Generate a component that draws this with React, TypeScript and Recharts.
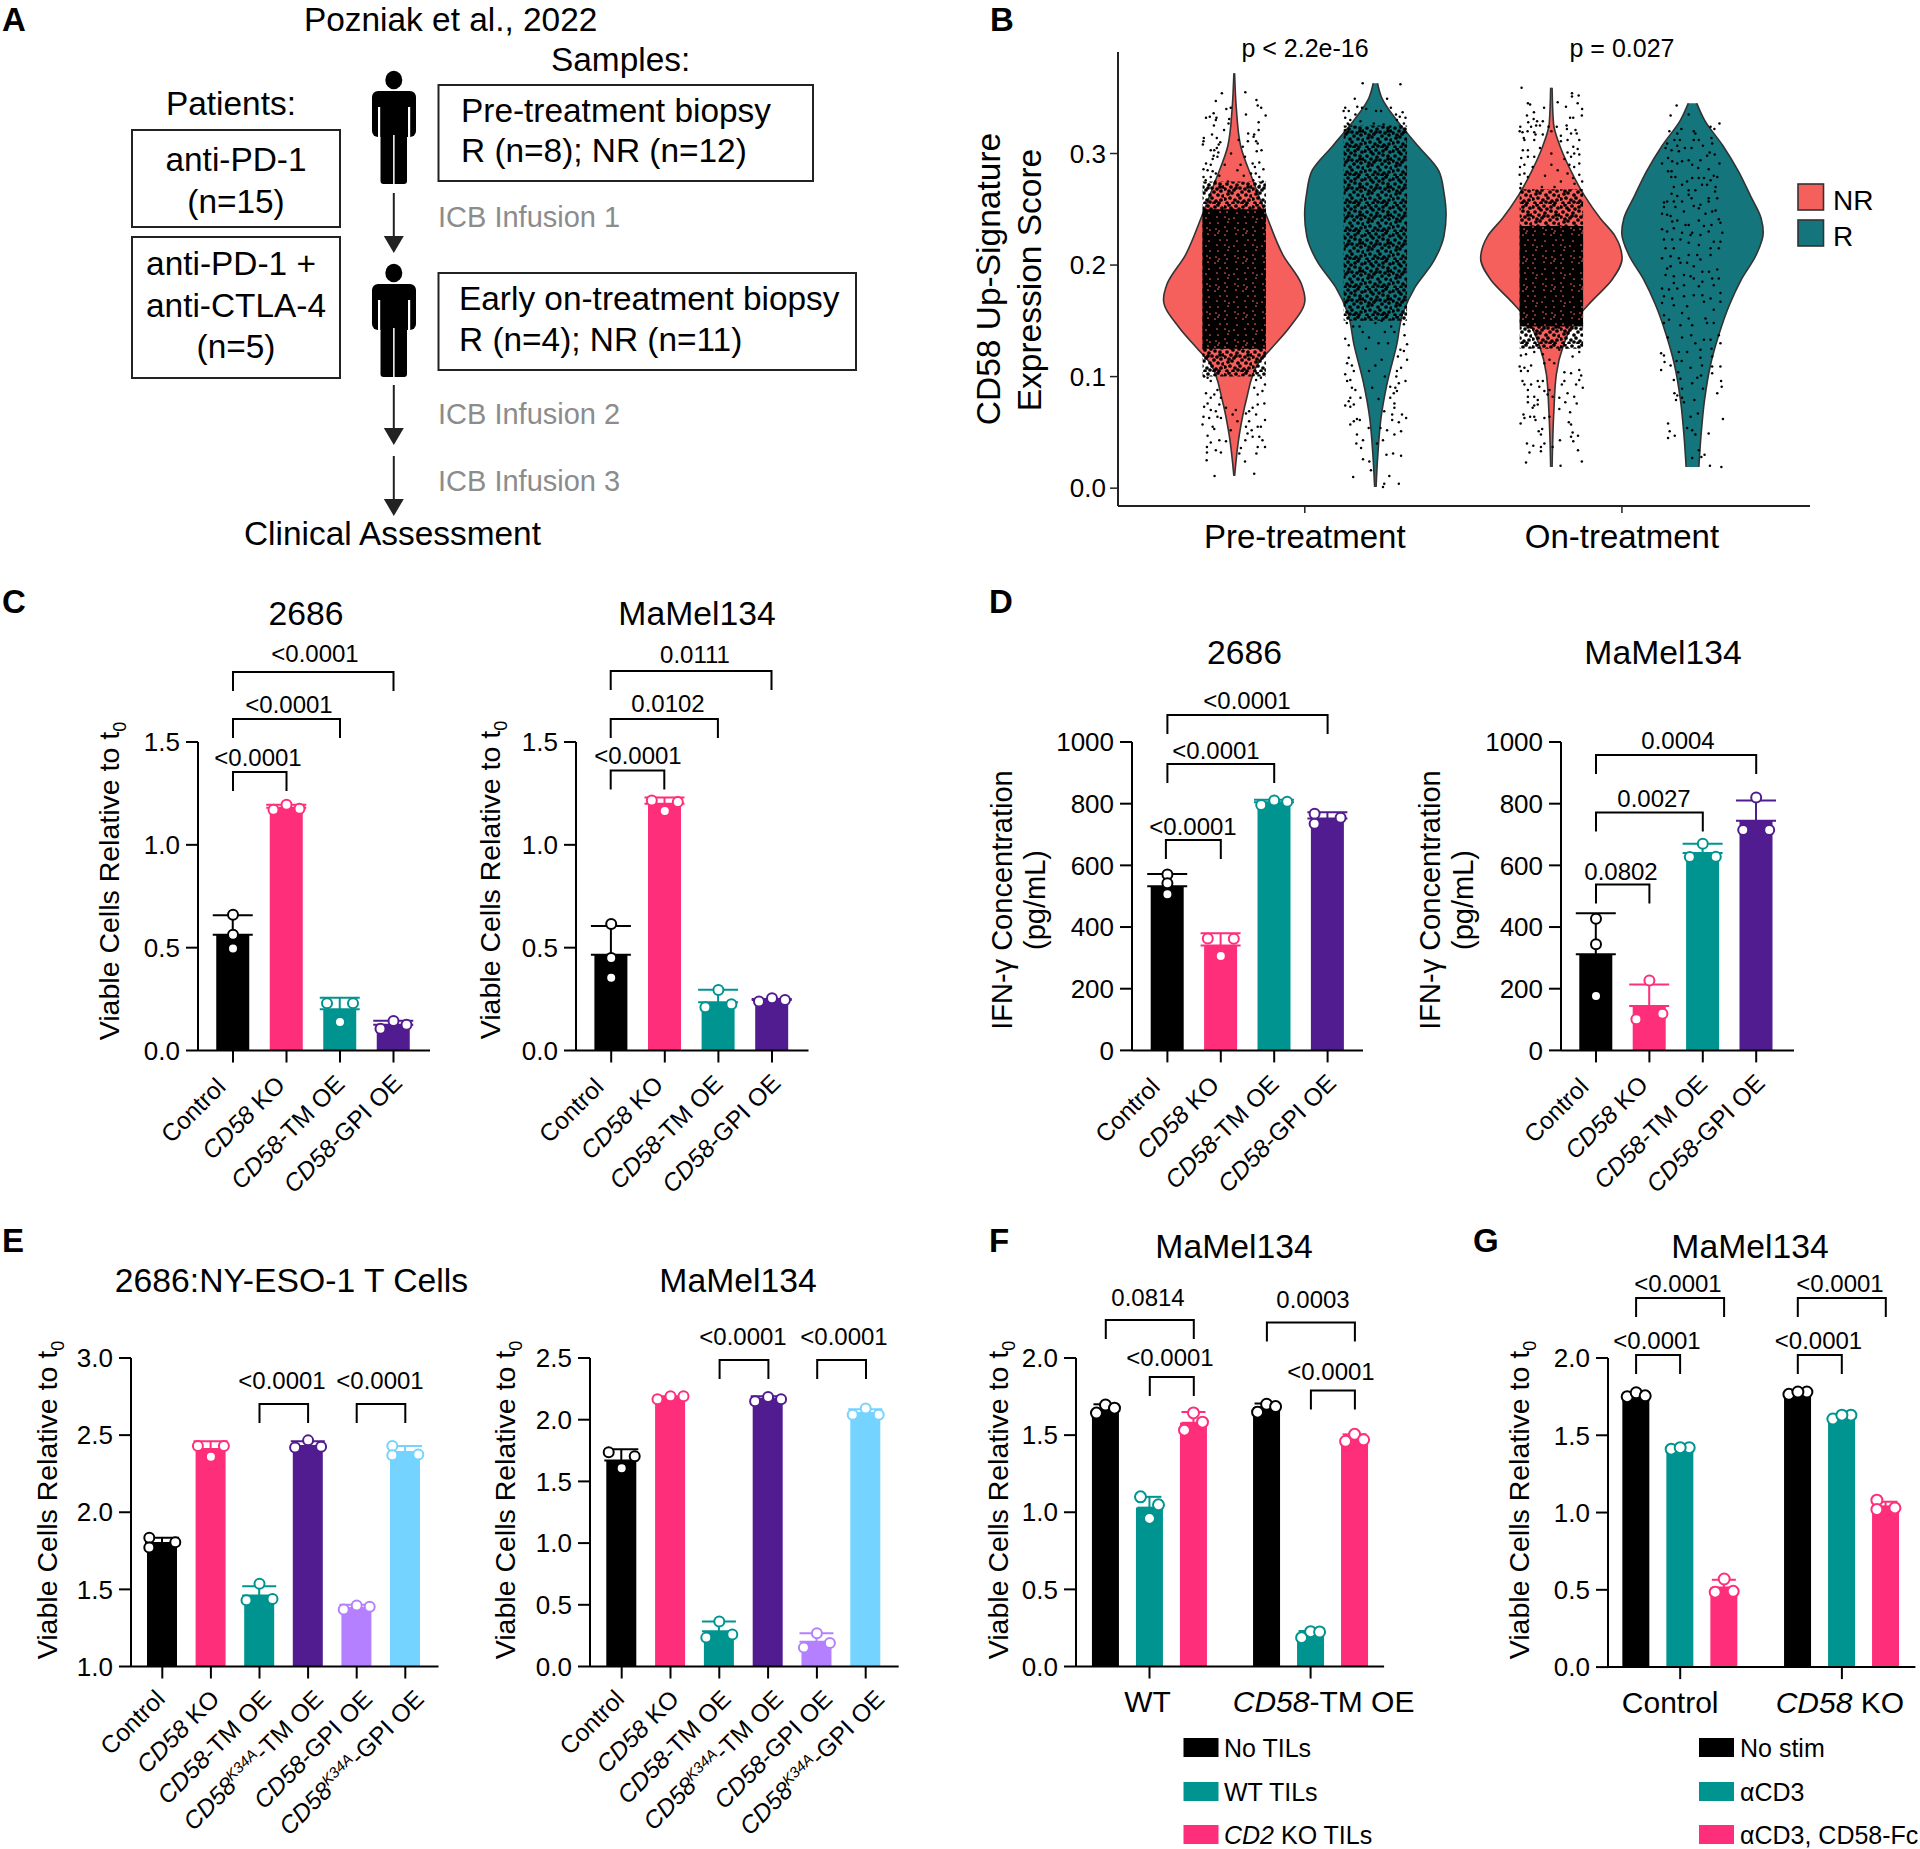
import {
  Area,
  Bar,
  ComposedChart,
  ErrorBar,
  Line,
  Scatter,
  XAxis,
  YAxis,
} from "recharts";

const FONT = '"Liberation Sans", Arial, Helvetica, sans-serif';

const BLACK = "#000000";
const PINK = "#ff2e7a";
const TEAL = "#009490";
const PURPLE = "#511c8f";
const LAVENDER = "#b580ff";
const SKY = "#74d3ff";
const NR_FILL = "#f6605c";
const R_FILL = "#14767c";

const COLORS_4 = [BLACK, PINK, TEAL, PURPLE];
const COLORS_6 = [BLACK, PINK, TEAL, PURPLE, LAVENDER, SKY];

const LABELS_4 = ["Control", "CD58 KO", "CD58-TM OE", "CD58-GPI OE"];
const LABELS_6 = [
  "Control",
  "CD58 KO",
  "CD58-TM OE",
  "CD58K34A-TM OE",
  "CD58-GPI OE",
  "CD58K34A-GPI OE",
];

// panel C
const C1_MEANS = [0.563, 1.18, 0.2, 0.125];
const C1_ERRORS = [0.095, 0.015, 0.057, 0.02];
const C1_REPS = [
  [0.66, 0.563, 0.496],
  [1.17, 1.195, 1.175],
  [0.23, 0.23, 0.138],
  [0.106, 0.144, 0.125],
];
const C2_MEANS = [0.465, 1.2, 0.235, 0.245];
const C2_ERRORS = [0.14, 0.03, 0.06, 0.006];
const C2_REPS = [
  [0.615, 0.45, 0.354],
  [1.215, 1.165, 1.208],
  [0.294, 0.21, 0.225],
  [0.238, 0.254, 0.246],
];

// panel D
const D1_MEANS = [532, 340, 805, 752];
const D1_ERRORS = [40, 40, 8, 20];
const D1_REPS = [
  [570, 542, 506],
  [363, 362, 306],
  [796, 810, 806],
  [767, 754, 735],
];
const D2_MEANS = [312, 144, 640, 745];
const D2_ERRORS = [133, 70, 30, 65];
const D2_REPS = [
  [427, 344, 176],
  [227, 101, 119],
  [670, 627, 628],
  [820, 715, 715],
];

// panel E
const E1_MEANS = [1.8, 2.41, 1.46, 2.43, 1.38, 2.39];
const E1_ERRORS = [0.035, 0.05, 0.06, 0.03, 0.02, 0.04];
const E1_REPS = [
  [1.835, 1.806, 1.772],
  [2.43, 2.43, 2.36],
  [1.536, 1.43, 1.437],
  [2.42, 2.466, 2.425],
  [1.37, 1.395, 1.388],
  [2.43, 2.37, 2.375],
];
const E2_MEANS = [1.67, 2.18, 0.285, 2.17, 0.2, 2.055];
const E2_ERRORS = [0.09, 0.01, 0.08, 0.02, 0.07, 0.03];
const E2_REPS = [
  [1.736, 1.703, 1.606],
  [2.165, 2.19, 2.19],
  [0.364, 0.234, 0.26],
  [2.15, 2.185, 2.165],
  [0.27, 0.153, 0.19],
  [2.04, 2.09, 2.04],
];

// panel F
const F_GROUPS = ["WT", "CD58-TM OE"];
const F_SERIES = ["No TILs", "WT TILs", "CD2 KO TILs"];
const F_MEANS = [
  [1.67, 1.68],
  [1.03, 0.21],
  [1.58, 1.48],
];
const F_ERRORS = [
  [0.03, 0.025],
  [0.07, 0.02],
  [0.07, 0.025],
];
const F_REPS = [
  [
    [1.643, 1.695, 1.675],
    [1.649, 1.7, 1.685],
  ],
  [
    [1.1, 1.048, 0.96],
    [0.187, 0.226, 0.224],
  ],
  [
    [1.644, 1.584, 1.532],
    [1.46, 1.505, 1.47],
  ],
];

// panel G
const G_GROUPS = ["Control", "CD58 KO"];
const G_SERIES = ["No stim", "αCD3", "αCD3, CD58-Fc"];
const G_MEANS = [
  [1.76, 1.77],
  [1.41, 1.62],
  [0.515, 1.04],
];
const G_ERRORS = [
  [0.015, 0.01],
  [0.01, 0.015],
  [0.05, 0.03],
];
const G_REPS = [
  [
    [1.75, 1.775, 1.755],
    [1.765, 1.78, 1.78],
  ],
  [
    [1.41, 1.42, 1.42],
    [1.605, 1.63, 1.63],
  ],
  [
    [0.57, 0.49, 0.485],
    [1.03, 1.08, 1.02],
  ],
];

// panel B violins, density is the half width relative to the widest point
const NR_PRE_SCORE = [0.372, 0.34, 0.307, 0.275, 0.242, 0.209, 0.183, 0.169, 0.144, 0.125, 0.112, 0.079, 0.047, 0.011];
const NR_PRE_DENSITY = [0.005, 0.03, 0.09, 0.27, 0.47, 0.69, 0.95, 1, 0.78, 0.52, 0.34, 0.17, 0.07, 0.005];
const R_PRE_SCORE = [0.363, 0.35, 0.33, 0.307, 0.284, 0.265, 0.245, 0.226, 0.203, 0.18, 0.157, 0.128, 0.095, 0.063, 0.03, 0.001];
const R_PRE_DENSITY = [0.03, 0.09, 0.3, 0.6, 0.9, 0.97, 1, 0.97, 0.82, 0.56, 0.39, 0.3, 0.17, 0.08, 0.035, 0.01];
const NR_ON_SCORE = [0.359, 0.327, 0.307, 0.284, 0.262, 0.242, 0.226, 0.206, 0.187, 0.167, 0.151, 0.128, 0.102, 0.069, 0.019];
const NR_ON_DENSITY = [0.01, 0.03, 0.12, 0.28, 0.47, 0.69, 0.9, 1, 0.86, 0.56, 0.34, 0.17, 0.07, 0.035, 0.01];
const R_ON_SCORE = [0.345, 0.33, 0.307, 0.284, 0.262, 0.242, 0.229, 0.209, 0.187, 0.164, 0.135, 0.112, 0.079, 0.047, 0.019];
const R_ON_DENSITY = [0.06, 0.17, 0.43, 0.65, 0.82, 0.97, 1, 0.9, 0.69, 0.52, 0.36, 0.26, 0.17, 0.12, 0.09];

// Individually readable jitter dots as [offset from violin centre, score].
// The packed core of the clouds is too dense to read point by point, so it is
// shown as a stippled band (CORE_* below), not as made up points.
const NR_PRE_DOTS = [
  [-0.039, 0.354], [-0.058, 0.347], [0.035, 0.355], [0.07, 0.348], [0.074, 0.343], [0.085, 0.341], [-0.025, 0.34], [-0.011, 0.341],
  [0.037, 0.335], [0.099, 0.334], [-0.089, 0.332], [-0.065, 0.336], [-0.077, 0.333], [-0.056, 0.332], [-0.058, 0.33], [-0.016, 0.331],
  [-0.018, 0.327], [0.077, 0.328], [-0.064, 0.325], [-0.032, 0.321], [0.077, 0.321], [0.063, 0.317], [-0.07, 0.317], [0.044, 0.318],
  [0.061, 0.315], [-0.096, 0.314], [-0.055, 0.314], [-0.097, 0.311], [-0.044, 0.31], [-0.099, 0.308], [-0.049, 0.308], [-0.055, 0.305],
  [0.043, 0.311], [0.069, 0.311], [0.014, 0.312], [0.074, 0.309], [-0.074, 0.303], [-0.063, 0.303], [0.027, 0.306], [0.086, 0.303],
  [0.071, 0.302], [-0.05, 0.301], [-0.065, 0.298], [-0.053, 0.297], [-0.068, 0.295], [-0.089, 0.291], [-0.074, 0.29], [0.079, 0.292],
  [0.034, 0.297], [0.058, 0.291], [0.065, 0.288], [0.092, 0.286], [-0.097, 0.286], [-0.084, 0.285], [-0.068, 0.284], [-0.058, 0.282],
  [-0.097, 0.279], [-0.074, 0.279], [-0.047, 0.28], [0.068, 0.282], [0.079, 0.279], [0.053, 0.282], [-0.09, 0.276], [-0.06, 0.275],
  [-0.08, 0.272], [0.09, 0.275], [0.06, 0.276], [0.08, 0.271], [-0.03, 0.29], [0.02, 0.29], [-0.01, 0.3], [0.01, 0.285], [0.03, 0.28],
  [-0.02, 0.275], [-0.084, 0.099], [-0.095, 0.1], [-0.074, 0.096], [-0.089, 0.085], [-0.063, 0.084], [-0.074, 0.081], [-0.042, 0.081],
  [-0.084, 0.076], [-0.047, 0.075], [-0.095, 0.073], [-0.074, 0.07], [-0.058, 0.069], [-0.097, 0.064], [-0.079, 0.063], [-0.053, 0.064],
  [-0.042, 0.063], [-0.1, 0.057], [-0.068, 0.055], [-0.063, 0.053], [-0.084, 0.047], [-0.047, 0.043], [-0.026, 0.042], [-0.074, 0.041],
  [-0.086, 0.037], [-0.058, 0.034], [-0.042, 0.032], [-0.086, 0.032], [-0.087, 0.025], [-0.062, 0.011], [0.063, 0.013], [0.034, 0.024],
  [0.07, 0.031], [0.074, 0.037], [0.097, 0.037], [0.021, 0.036], [0.016, 0.031], [0.089, 0.043], [0.079, 0.046], [0.058, 0.046],
  [0.035, 0.043], [0.042, 0.049], [0.055, 0.052], [0.074, 0.055], [0.097, 0.061], [0.084, 0.055], [0.037, 0.055], [0.047, 0.06],
  [0.069, 0.066], [0.047, 0.069], [0.095, 0.076], [0.074, 0.075], [0.058, 0.072], [0.037, 0.067], [0.089, 0.087], [0.074, 0.084],
  [0.063, 0.09], [0.097, 0.093], [0.084, 0.099], [0.069, 0.097], [-0.053, 0.088], [-0.026, 0.072], [-0.005, 0.066], [0.005, 0.07],
  [0.01, 0.06], [-0.011, 0.052],
];
const R_PRE_DOTS = [
  [-0.04, 0.363], [0.079, 0.362], [-0.065, 0.349], [0.037, 0.349], [-0.057, 0.342], [-0.042, 0.341], [-0.095, 0.341], [0.049, 0.341],
  [-0.1, 0.338], [-0.084, 0.338], [-0.029, 0.34], [0.002, 0.338], [0.018, 0.338], [-0.063, 0.335], [0.086, 0.337], [0.065, 0.335],
  [0.077, 0.333], [0.095, 0.332], [-0.095, 0.332], [-0.079, 0.33], [-0.087, 0.327], [0.068, 0.33], [0.09, 0.327], [-0.084, 0.326],
  [-0.095, 0.321], [-0.047, 0.329], [-0.005, 0.327], [0.026, 0.326], [0.047, 0.324], [0.079, 0.323], [-0.095, 0.134], [-0.084, 0.128],
  [0.1, 0.129], [0.092, 0.137], [0.079, 0.124], [0.09, 0.123], [-0.084, 0.117], [-0.089, 0.112], [-0.074, 0.11], [0.1, 0.115],
  [0.071, 0.118], [-0.095, 0.102], [-0.068, 0.105], [-0.079, 0.097], [-0.089, 0.096], [-0.074, 0.09], [-0.063, 0.088], [0.068, 0.105],
  [0.066, 0.1], [0.081, 0.108], [0.095, 0.096], [0.074, 0.094], [0.047, 0.091], [0.063, 0.09], [0.058, 0.085], [0.068, 0.087],
  [-0.047, 0.081], [-0.079, 0.081], [-0.084, 0.078], [-0.095, 0.074], [-0.079, 0.073], [-0.068, 0.075], [0.047, 0.081], [0.06, 0.076],
  [0.06, 0.072], [0.028, 0.069], [0.053, 0.066], [0.053, 0.061], [0.084, 0.066], [0.097, 0.063], [0.074, 0.059], [-0.058, 0.062],
  [-0.068, 0.06], [-0.049, 0.061], [-0.079, 0.057], [-0.021, 0.054], [0.037, 0.052], [0.016, 0.054], [0.081, 0.051], [0.06, 0.048],
  [-0.058, 0.048], [-0.039, 0.043], [0.024, 0.043], [-0.06, 0.04], [-0.045, 0.036], [0.005, 0.04], [0.035, 0.03], [0.056, 0.031],
  [0.081, 0.029], [-0.039, 0.026], [-0.019, 0.024], [-0.014, 0.016], [-0.07, 0.01], [0.044, 0.011], [0.028, 0.004], [0.024, 0.001],
  [0.074, 0.004], [-0.03, 0.125], [0.02, 0.115], [-0.02, 0.105], [0.03, 0.1], [-0.01, 0.09], [0.01, 0.08], [0, 0.11], [-0.04, 0.14],
  [0.03, 0.14], [0.04, 0.13], [-0.02, 0.135], [0.01, 0.13], [-0.05, 0.145], [0.05, 0.145], [0.06, 0.14], [-0.07, 0.145], [-0.09, 0.148],
  [0.09, 0.147], [0, 0.148], [0.02, 0.15],
];
const NR_ON_DOTS = [
  [-0.094, 0.359], [0.065, 0.354], [0.086, 0.352], [0.065, 0.351], [-0.074, 0.345], [-0.067, 0.344], [0.02, 0.346], [0.083, 0.345],
  [0.046, 0.342], [-0.023, 0.341], [0.097, 0.34], [-0.055, 0.337], [-0.077, 0.334], [0.096, 0.334], [0.059, 0.332], [0.069, 0.332],
  [-0.056, 0.331], [-0.045, 0.329], [-0.027, 0.329], [-0.073, 0.328], [-0.048, 0.325], [-0.036, 0.325], [-0.064, 0.324], [-0.098, 0.324],
  [0.048, 0.325], [0.049, 0.322], [-0.009, 0.324], [0.017, 0.324], [0.076, 0.321], [-0.1, 0.32], [-0.091, 0.319], [-0.075, 0.32],
  [-0.054, 0.319], [0.062, 0.318], [0.08, 0.318], [-0.087, 0.314], [-0.05, 0.317], [-0.027, 0.317], [0.03, 0.316], [0.03, 0.311],
  [0.051, 0.312], [0.088, 0.312], [-0.085, 0.312], [-0.054, 0.312], [-0.036, 0.305], [0.069, 0.306], [0.083, 0.304], [-0.09, 0.303],
  [-0.074, 0.303], [0.051, 0.301], [0.072, 0.3], [0.088, 0.299], [-0.095, 0.296], [-0.074, 0.297], [-0.054, 0.297], [0.041, 0.295],
  [0.062, 0.297], [0.088, 0.291], [-0.099, 0.288], [-0.085, 0.29], [-0.059, 0.288], [0.057, 0.29], [0.072, 0.288], [-0.1, 0.281],
  [-0.085, 0.282], [-0.074, 0.279], [0.051, 0.282], [0.088, 0.281], [0.068, 0.278], [-0.096, 0.273], [0.097, 0.275], [0.073, 0.273],
  [0.094, 0.267], [-0.098, 0.269], [0, 0.29], [-0.02, 0.28], [0.02, 0.285], [0.03, 0.275], [-0.03, 0.27], [0.01, 0.27], [0, 0.3], [0, 0.32],
  [-0.096, 0.119], [-0.08, 0.12], [-0.054, 0.122], [0.088, 0.122], [0.067, 0.118], [-0.1, 0.109], [-0.085, 0.108], [-0.064, 0.11],
  [-0.096, 0.105], [-0.074, 0.105], [0.062, 0.103], [0.088, 0.106], [0.094, 0.101], [0.041, 0.104], [-0.091, 0.096], [-0.064, 0.093],
  [-0.043, 0.096], [-0.027, 0.096], [0.088, 0.097], [0.078, 0.093], [0.041, 0.096], [0.033, 0.093], [0.099, 0.09], [-0.085, 0.093],
  [-0.074, 0.088], [-0.038, 0.091], [-0.022, 0.087], [0.051, 0.085], [0.072, 0.082], [0.08, 0.076], [0.025, 0.081], [0.044, 0.077],
  [-0.074, 0.082], [-0.054, 0.082], [-0.043, 0.079], [-0.074, 0.077], [-0.054, 0.074], [-0.043, 0.075], [-0.059, 0.072], [0.025, 0.071],
  [0.059, 0.068], [-0.088, 0.066], [-0.085, 0.063], [-0.067, 0.064], [-0.054, 0.064], [-0.022, 0.063], [-0.05, 0.061], [0.055, 0.059],
  [0.062, 0.057], [-0.097, 0.058], [-0.029, 0.053], [-0.04, 0.051], [0.067, 0.05], [-0.033, 0.048], [0.084, 0.047], [0.062, 0.046],
  [0.027, 0.043], [0.069, 0.042], [-0.077, 0.04], [-0.057, 0.038], [-0.022, 0.04], [-0.033, 0.037], [0.004, 0.037], [-0.033, 0.033],
  [0.084, 0.034], [-0.069, 0.032], [-0.08, 0.023], [0.096, 0.024], [0.029, 0.02], [-0.006, 0.064], [-0.006, 0.088], [0.004, 0.082],
  [-0.012, 0.084], [-0.022, 0.112], [-0.006, 0.115], [0.009, 0.112], [-0.027, 0.12], [0.025, 0.124],
];
const R_ON_DOTS = [
  [-0.05, 0.343], [-0.012, 0.335], [-0.069, 0.334], [0.085, 0.327], [0.057, 0.324], [0.069, 0.322], [-0.073, 0.32], [0.004, 0.32],
  [0.009, 0.318], [-0.035, 0.322], [-0.048, 0.318], [-0.057, 0.312], [-0.04, 0.312], [0.004, 0.312], [0.02, 0.312], [0.06, 0.314],
  [-0.08, 0.309], [-0.085, 0.305], [-0.066, 0.303], [-0.048, 0.307], [-0.043, 0.302], [-0.024, 0.305], [-0.003, 0.305], [0.033, 0.307],
  [0.062, 0.309], [0.054, 0.301], [0.046, 0.298], [0.07, 0.299], [-0.077, 0.296], [-0.064, 0.293], [-0.096, 0.291], [-0.048, 0.291],
  [-0.033, 0.293], [-0.012, 0.294], [-0.001, 0.29], [0.025, 0.294], [0.085, 0.291], [0.018, 0.287], [0.051, 0.286], [-0.077, 0.284],
  [-0.066, 0.284], [-0.067, 0.279], [-0.054, 0.279], [0.067, 0.28], [0.078, 0.279], [0.057, 0.276], [0.036, 0.278], [0.02, 0.278],
  [-0.001, 0.278], [-0.017, 0.275], [-0.033, 0.272], [-0.059, 0.27], [0.03, 0.272], [0.046, 0.272], [0.073, 0.27], [-0.012, 0.267],
  [0.009, 0.267], [0.071, 0.266], [-0.066, 0.264], [-0.048, 0.262], [-0.012, 0.263], [-0.003, 0.26], [0.051, 0.26], [0.078, 0.26],
  [-0.09, 0.256], [-0.08, 0.257], [-0.059, 0.257], [-0.033, 0.257], [0.004, 0.253], [0.025, 0.254], [0.051, 0.257], [-0.09, 0.252],
  [-0.054, 0.252], [-0.027, 0.248], [0.073, 0.249], [0.062, 0.248], [-0.096, 0.246], [-0.069, 0.244], [0.02, 0.251], [0.041, 0.246],
  [-0.08, 0.245], [0.083, 0.241], [0.088, 0.238], [-0.064, 0.239], [-0.048, 0.24], [-0.012, 0.236], [0.02, 0.24], [0.06, 0.236],
  [-0.059, 0.233], [-0.022, 0.236], [0.036, 0.235], [-0.096, 0.232], [-0.08, 0.23], [-0.033, 0.229], [-0.001, 0.229], [0.051, 0.23],
  [0.094, 0.229], [-0.09, 0.223], [-0.064, 0.223], [-0.038, 0.223], [-0.006, 0.227], [0.025, 0.227], [0.067, 0.221], [0.088, 0.221],
  [-0.085, 0.215], [-0.059, 0.215], [-0.012, 0.22], [0.02, 0.218], [0.057, 0.215], [0.083, 0.215], [-0.096, 0.206], [-0.069, 0.208],
  [-0.043, 0.206], [-0.012, 0.209], [0.015, 0.209], [0.057, 0.209], [-0.038, 0.202], [-0.017, 0.202], [0.025, 0.205], [-0.08, 0.197],
  [-0.069, 0.199], [0.004, 0.199], [0.031, 0.194], [0.052, 0.194], [0.078, 0.196], [-0.027, 0.191], [-0.006, 0.19], [-0.059, 0.19],
  [-0.085, 0.191], [0.004, 0.188], [0.062, 0.188], [0.083, 0.188], [-0.059, 0.184], [-0.027, 0.182], [0.031, 0.185], [-0.096, 0.179],
  [-0.074, 0.178], [-0.048, 0.179], [0.02, 0.181], [0.067, 0.182], [0.088, 0.175], [-0.09, 0.172], [-0.064, 0.17], [-0.027, 0.172],
  [0.004, 0.173], [0.031, 0.173], [0.057, 0.17], [0.088, 0.167], [-0.096, 0.166], [-0.059, 0.164], [-0.017, 0.163], [0.036, 0.167],
  [0.067, 0.16], [-0.09, 0.155], [-0.033, 0.157], [-0.074, 0.151], [-0.012, 0.152], [0.041, 0.152], [0.067, 0.148], [-0.09, 0.148],
  [-0.038, 0.146], [-0.001, 0.146], [0.046, 0.148], [-0.099, 0.121], [-0.09, 0.119], [-0.088, 0.113], [-0.099, 0.106], [-0.078, 0.135],
  [-0.033, 0.135], [-0.004, 0.137], [0.009, 0.13], [0.036, 0.133], [0.057, 0.133], [0.083, 0.137], [0.088, 0.13], [-0.043, 0.122],
  [-0.017, 0.122], [0.025, 0.124], [0.06, 0.125], [0.062, 0.118], [0.025, 0.117], [-0.05, 0.114], [-0.034, 0.114], [-0.069, 0.11],
  [-0.006, 0.108], [0.03, 0.11], [0.062, 0.109], [0.088, 0.109], [-0.045, 0.104], [0.062, 0.103], [0.015, 0.099], [0.027, 0.101],
  [-0.038, 0.098], [-0.059, 0.097], [0.09, 0.096], [-0.001, 0.094], [0.092, 0.091], [-0.033, 0.089], [0.033, 0.089], [0.078, 0.085],
  [-0.057, 0.085], [-0.048, 0.083], [-0.033, 0.081], [-0.052, 0.079], [0.006, 0.079], [-0.027, 0.077], [0.017, 0.067], [-0.006, 0.064],
  [0.096, 0.062], [-0.077, 0.058], [-0.017, 0.054], [-0.001, 0.052], [-0.072, 0.051], [0.051, 0.049], [0.009, 0.048], [-0.056, 0.047],
  [-0.077, 0.045], [0.02, 0.034], [0.038, 0.03], [0.028, 0.028], [-0.001, 0.027], [0.055, 0.02], [0.091, 0.019],
];

// score spans of the packed part of each cloud
const CORE_NR_PRE_DARK = [0.25, 0.125];
const CORE_NR_PRE_MID = [0.275, 0.1];
const CORE_R_PRE_MID = [0.325, 0.15];
const CORE_NR_ON_DARK = [0.235, 0.145];
const CORE_NR_ON_MID = [0.268, 0.125];

const VIOLIN_HALF_WIDTH = 0.223;
const JITTER_HALF_WIDTH = 0.1;
const BX_PRE = 1;
const BX_ON = 2;
const DODGE = 0.2225;

const STIPPLE_TILE = [
  [1, 3], [5, 1], [12, 2], [15, 5], [22, 1], [26, 4], [3, 8], [9, 6], [13, 9], [19, 7], [24, 8], [27, 11], [1, 13], [7, 11],
  [10, 14], [16, 12], [21, 13], [25, 15], [4, 18], [8, 17], [14, 19], [18, 16], [22, 19], [27, 20], [1, 23], [6, 22], [11, 24],
  [16, 22], [20, 25], [25, 24], [3, 27], [9, 27], [14, 26], [18, 27], [23, 27], [7, 4], [19, 3], [12, 12], [5, 15], [24, 11],
];

// where each slanted label sits relative to its tick, [right, down]
const SLANT_4 = [[-6, 26], [0, 24], [6, 23], [10, 22]];
const SLANT_6 = [[4, 22], [10, 22], [13, 22], [16.5, 22], [17, 22], [20, 22]];

const violinRows = (center, scores, density) =>
  scores.map((score, i) => ({
    score,
    range: [center - density[i] * VIOLIN_HALF_WIDTH, center + density[i] * VIOLIN_HALF_WIDTH],
  }));
const coreRows = (center, span) =>
  span.map((score) => ({ score, range: [center - JITTER_HALF_WIDTH, center + JITTER_HALF_WIDTH] }));
const dotRows = (center, dots) => dots.map(([j, score]) => ({ x: center + j, score }));

const DOT_TOUCH = 8.5;

// beeswarm: dots that would touch get pushed sideways like GraphPad does
function swarm(values, pxPerUnit, spread) {
  const order = values.map((_, i) => i).sort((a, b) => values[a] - values[b]);
  const [lo, mid, hi] = order;
  const near = (a, b) => Math.abs(values[a] - values[b]) * pxPerUnit < DOT_TOUCH;
  const out = [0, 0, 0];
  if (near(lo, hi)) {
    out[lo] = -spread;
    out[mid] = spread;
  } else if (near(lo, mid) && near(mid, hi)) {
    out[lo] = -spread;
    out[hi] = -spread;
    out[mid] = spread;
  } else if (near(mid, hi)) {
    out[hi] = -spread;
    out[mid] = spread;
  } else if (near(lo, mid)) {
    out[lo] = -spread;
    out[mid] = spread;
  }
  return out;
}

function RepDot({ cx, cy, color, shift, r }) {
  if (cx == null || cy == null) return null;
  return <circle cx={cx + shift} cy={cy} r={r} fill="#fff" stroke={color} strokeWidth={2} />;
}

function TickText({ label, size }) {
  if (!label.startsWith("CD")) return <>{label}</>;
  const m = label.match(/^(CD\d+)(K34A)?(.*)$/);
  return (
    <>
      <tspan fontStyle="italic">{m[1]}</tspan>
      {m[2] ? (
        <tspan fontStyle="italic" fontSize={size * 0.62} dy={-size * 0.34}>
          {m[2]}
        </tspan>
      ) : null}
      <tspan dy={m[2] ? size * 0.34 : 0}>{m[3]}</tspan>
    </>
  );
}

function SlantTick({ x, y, payload, index, slant }) {
  const size = 24.5;
  const ax = x + slant[index][0];
  const ay = y + slant[index][1];
  return (
    <text x={ax} y={ay} transform={`rotate(-45 ${ax} ${ay})`} textAnchor="end" fontSize={size} fill="#000">
      <TickText label={payload.value} size={size} />
    </text>
  );
}

const AXIS_W = 90;
const PAD_TOP = 16;
const TICK_ZONE = 175;

function yAxisEl(domain, ticks, digits) {
  return (
    <YAxis
      type="number"
      width={AXIS_W}
      domain={domain}
      ticks={ticks}
      interval={0}
      allowDataOverflow
      tickSize={12}
      tickMargin={6}
      tickFormatter={(v) => v.toFixed(digits)}
      tick={{ fontSize: 26, fill: "#000" }}
      axisLine={{ stroke: "#000", strokeWidth: 2 }}
      tickLine={{ stroke: "#000", strokeWidth: 2 }}
    />
  );
}

function SinglePanel({ labels, means, errors, reps, colors, plot, firstBar, barStep, barW, domain, ticks, digits = 1, slant = SLANT_4, capW = 20 }) {
  const pxPerUnit = plot.h / (domain[1] - domain[0]);
  const rows = labels.map((name, i) => ({
    name,
    [`m${i}`]: means[i],
    [`e${i}`]: [0, errors[i]],
    r0: reps[i][0],
    r1: reps[i][1],
    r2: reps[i][2],
    color: colors[i],
    shifts: swarm(reps[i], pxPerUnit, 13),
  }));
  const padLeft = firstBar - barStep / 2 - plot.x;
  const padRight = plot.x + plot.w - (firstBar + barStep * (labels.length - 0.5));
  return (
    <div style={{ position: "absolute", left: plot.x - AXIS_W, top: plot.y - PAD_TOP }}>
      <ComposedChart
        width={AXIS_W + plot.w + 30}
        height={PAD_TOP + plot.h + TICK_ZONE}
        data={rows}
        barSize={barW}
        margin={{ top: PAD_TOP, right: 30, left: 0, bottom: 0 }}
      >
        <XAxis
          dataKey="name"
          type="category"
          scale="band"
          height={TICK_ZONE}
          interval={0}
          padding={{ left: padLeft, right: padRight }}
          tickSize={12}
          tickMargin={0}
          tick={(p) => <SlantTick {...p} slant={slant} />}
          axisLine={{ stroke: "#000", strokeWidth: 2 }}
          tickLine={{ stroke: "#000", strokeWidth: 2 }}
        />
        {yAxisEl(domain, ticks, digits)}
        {labels.map((_, i) => (
          <Bar key={i} dataKey={`m${i}`} stackId="all" fill={colors[i]} isAnimationActive={false}>
            <ErrorBar dataKey={`e${i}`} width={capW} stroke={colors[i]} strokeWidth={2} isAnimationActive={false} />
          </Bar>
        ))}
        {[0, 1, 2].map((k) => (
          <Line
            key={k}
            dataKey={`r${k}`}
            stroke="none"
            legendType="none"
            isAnimationActive={false}
            activeDot={false}
            dot={(p) => <RepDot key={p.index} cx={p.cx} cy={p.cy} r={5} color={p.payload.color} shift={p.payload.shifts[k]} />}
          />
        ))}
      </ComposedChart>
    </div>
  );
}

function GroupTick({ x, y, payload, index, shifts }) {
  return (
    <text x={x + shifts[index]} y={y + 34} textAnchor="middle" fontSize={30} fill="#000">
      <TickText label={payload.value} size={30} />
    </text>
  );
}

function GroupedPanel({ groups, seriesNames, colors, means, errors, reps, plot, firstGroup, groupStep, barW, barGap, tickShifts }) {
  const domain = [0, 2];
  const pxPerUnit = plot.h / 2;
  const step = barW + barGap;
  const extraRight = 60;
  const rows = groups.map((name, g) => {
    const row = { name };
    seriesNames.forEach((_, s) => {
      row[`m${s}`] = means[s][g];
      row[`e${s}`] = [0, errors[s][g]];
      row[`shift${s}`] = swarm(reps[s][g], pxPerUnit, 9);
      reps[s][g].forEach((v, k) => {
        row[`r${s}_${k}`] = v;
      });
    });
    return row;
  });
  const padLeft = firstGroup - groupStep / 2 - plot.x;
  const padRight = plot.x + plot.w - (firstGroup + groupStep * 1.5);
  return (
    <div style={{ position: "absolute", left: plot.x - AXIS_W, top: plot.y - PAD_TOP }}>
      <ComposedChart
        width={AXIS_W + plot.w + extraRight}
        height={PAD_TOP + plot.h + 70}
        data={rows}
        barSize={barW}
        barGap={barGap}
        margin={{ top: PAD_TOP, right: extraRight, left: 0, bottom: 0 }}
      >
        <XAxis
          dataKey="name"
          type="category"
          scale="band"
          height={70}
          interval={0}
          padding={{ left: padLeft, right: padRight }}
          tickSize={12}
          tickMargin={0}
          tick={(p) => <GroupTick {...p} shifts={tickShifts} />}
          axisLine={{ stroke: "#000", strokeWidth: 2 }}
          tickLine={{ stroke: "#000", strokeWidth: 2 }}
        />
        {yAxisEl(domain, [0, 0.5, 1, 1.5, 2], 1)}
        {seriesNames.map((name, s) => (
          <Bar key={name} name={name} dataKey={`m${s}`} fill={colors[s]} isAnimationActive={false}>
            <ErrorBar dataKey={`e${s}`} width={12} stroke={colors[s]} strokeWidth={2} isAnimationActive={false} />
          </Bar>
        ))}
        {seriesNames.flatMap((name, s) =>
          [0, 1, 2].map((k) => (
            <Line
              key={`${name}${k}`}
              dataKey={`r${s}_${k}`}
              stroke="none"
              legendType="none"
              isAnimationActive={false}
              activeDot={false}
              dot={(p) => (
                <RepDot
                  key={p.index}
                  cx={p.cx}
                  cy={p.cy}
                  r={5.5}
                  color={colors[s]}
                  shift={(s - 1) * step + p.payload[`shift${s}`][k]}
                />
              )}
            />
          )),
        )}
      </ComposedChart>
    </div>
  );
}

function ViolinPanel() {
  const plot = { x: 1118, y: 52, w: 692, h: 454 };
  const violin = (key, center, scores, density, fill) => (
    <Area
      key={key}
      data={violinRows(center, scores, density)}
      dataKey="range"
      type="monotone"
      fill={fill}
      fillOpacity={1}
      stroke="#333"
      strokeWidth={1.6}
      dot={false}
      activeDot={false}
      isAnimationActive={false}
    />
  );
  const core = (key, center, span, pattern) => (
    <Area
      key={key}
      data={coreRows(center, span)}
      dataKey="range"
      type="linear"
      fill={`url(#${pattern})`}
      fillOpacity={1}
      stroke="none"
      dot={false}
      activeDot={false}
      isAnimationActive={false}
    />
  );
  const dots = (key, center, list) => (
    <Scatter
      key={key}
      data={dotRows(center, list)}
      isAnimationActive={false}
      shape={(p) => <circle cx={p.cx} cy={p.cy} r={1.25} fill="#000" />}
    />
  );
  return (
    <div style={{ position: "absolute", left: plot.x - AXIS_W, top: plot.y - PAD_TOP }}>
      <ComposedChart
        layout="vertical"
        width={AXIS_W + plot.w + 10}
        height={PAD_TOP + plot.h + 60}
        margin={{ top: PAD_TOP, right: 10, left: 0, bottom: 0 }}
      >
        <XAxis
          type="number"
          dataKey="x"
          height={60}
          domain={[0.411, 2.593]}
          ticks={[BX_PRE, BX_ON]}
          allowDataOverflow
          interval={0}
          tickSize={7}
          tickMargin={12}
          tickFormatter={(v) => (v === BX_PRE ? "Pre-treatment" : "On-treatment")}
          tick={{ fontSize: 33, fill: "#000" }}
          axisLine={{ stroke: "#222", strokeWidth: 2 }}
          tickLine={{ stroke: "#222", strokeWidth: 1.5 }}
        />
        <YAxis
          type="number"
          dataKey="score"
          width={AXIS_W}
          domain={[-0.016, 0.391]}
          ticks={[0, 0.1, 0.2, 0.3]}
          reversed
          allowDataOverflow
          interval={0}
          tickSize={8}
          tickMargin={4}
          tickFormatter={(v) => v.toFixed(1)}
          tick={{ fontSize: 26, fill: "#000" }}
          axisLine={{ stroke: "#222", strokeWidth: 2 }}
          tickLine={{ stroke: "#222", strokeWidth: 1.5 }}
        />
        {violin("nrPre", BX_PRE - DODGE, NR_PRE_SCORE, NR_PRE_DENSITY, NR_FILL)}
        {violin("rPre", BX_PRE + DODGE, R_PRE_SCORE, R_PRE_DENSITY, R_FILL)}
        {violin("nrOn", BX_ON - DODGE, NR_ON_SCORE, NR_ON_DENSITY, NR_FILL)}
        {violin("rOn", BX_ON + DODGE, R_ON_SCORE, R_ON_DENSITY, R_FILL)}
        {core("c1", BX_PRE - DODGE, CORE_NR_PRE_MID, "stippleMid")}
        {core("c2", BX_PRE - DODGE, CORE_NR_PRE_DARK, "stippleDarkNr")}
        {core("c3", BX_PRE + DODGE, CORE_R_PRE_MID, "stippleMid")}
        {core("c4", BX_ON - DODGE, CORE_NR_ON_MID, "stippleMid")}
        {core("c5", BX_ON - DODGE, CORE_NR_ON_DARK, "stippleDarkNr")}
        {dots("d1", BX_PRE - DODGE, NR_PRE_DOTS)}
        {dots("d2", BX_PRE + DODGE, R_PRE_DOTS)}
        {dots("d3", BX_ON - DODGE, NR_ON_DOTS)}
        {dots("d4", BX_ON + DODGE, R_ON_DOTS)}
      </ComposedChart>
    </div>
  );
}

function Bracket({ x1, x2, y, label, lx, ly, drop = 19 }) {
  return (
    <g>
      <path d={`M${x1} ${y + drop}V${y}H${x2}V${y + drop}`} fill="none" stroke="#000" strokeWidth={2} />
      <text x={lx} y={ly} textAnchor="middle" fontSize={24}>
        {label}
      </text>
    </g>
  );
}

function Title({ x, y, children }) {
  return (
    <text x={x} y={y} textAnchor="middle" fontSize={33.7}>
      {children}
    </text>
  );
}

function PanelLetter({ x, y, children }) {
  return (
    <text x={x} y={y + 2} fontSize={33} fontWeight="bold">
      {children}
    </text>
  );
}

function ViableLabel({ x, y }) {
  const lx = x - 2;
  return (
    <text transform={`rotate(-90 ${lx} ${y})`} x={lx} y={y} textAnchor="middle" fontSize={28.5}>
      Viable Cells Relative to t
      <tspan fontSize={18} dy={7}>
        0
      </tspan>
    </text>
  );
}

function IfnLabel({ x, y }) {
  return (
    <g>
      <text transform={`rotate(-90 ${x} ${y})`} x={x} y={y} textAnchor="middle" fontSize={29}>
        IFN-γ Concentration
      </text>
      <text transform={`rotate(-90 ${x + 33} ${y})`} x={x + 33} y={y} textAnchor="middle" fontSize={29}>
        (pg/mL)
      </text>
    </g>
  );
}

function Person({ dy }) {
  return (
    <g transform={`translate(0 ${dy})`}>
      <ellipse cx={393.8} cy={80} rx={8.5} ry={9.2} fill="#000" />
      <rect x={372} y={91} width={44} height={46} rx={6} fill="#000" />
      <rect x={380.5} y={100} width={26.5} height={84} rx={3} fill="#000" />
      <rect x={378} y={107} width={2.2} height={32} fill="#fff" />
      <rect x={408} y={107} width={2.2} height={32} fill="#fff" />
      <rect x={393.1} y={135} width={1.5} height={50} fill="#fff" />
    </g>
  );
}

function Arrow({ top, bottom }) {
  const x = 393.8;
  return (
    <g>
      <line x1={x} y1={top} x2={x} y2={bottom - 15} stroke="#222" strokeWidth={2} />
      <path d={`M${x - 10} ${bottom - 17}H${x + 10}L${x} ${bottom}Z`} fill="#222" />
    </g>
  );
}

function Box({ x, y, w, h }) {
  return <rect x={x} y={y} width={w} height={h} fill="none" stroke="#222" strokeWidth={2} />;
}

function PanelA() {
  return (
    <g fontSize={33.4}>
      <PanelLetter x={2} y={28.5}>A</PanelLetter>
      <text x={304} y={30.5}>Pozniak et al., 2022</text>
      <text x={551} y={71}>Samples:</text>
      <text x={166} y={115}>Patients:</text>
      <Box x={132} y={130} w={208} h={97} />
      <text x={236} y={171} textAnchor="middle">anti-PD-1</text>
      <text x={236} y={213} textAnchor="middle">(n=15)</text>
      <Box x={132} y={237} w={208} h={141} />
      <text x={231} y={275} textAnchor="middle">anti-PD-1 +</text>
      <text x={236} y={317} textAnchor="middle">anti-CTLA-4</text>
      <text x={236} y={358} textAnchor="middle">(n=5)</text>
      <Box x={438.5} y={85} w={374.5} h={96} />
      <text x={461} y={122}>Pre-treatment biopsy</text>
      <text x={461} y={162}>R (n=8); NR (n=12)</text>
      <Box x={438.5} y={273} w={417.5} h={97} />
      <text x={459} y={310}>Early on-treatment biopsy</text>
      <text x={459} y={351}>R (n=4); NR (n=11)</text>
      <g fontSize={29} fill="#8c8c8c">
        <text x={438} y={227}>ICB Infusion 1</text>
        <text x={438} y={424}>ICB Infusion 2</text>
        <text x={438} y={491}>ICB Infusion 3</text>
      </g>
      <Person dy={0} />
      <Person dy={193} />
      <Arrow top={193} bottom={253} />
      <Arrow top={385} bottom={445} />
      <Arrow top={456} bottom={516} />
      <text x={244} y={545}>Clinical Assessment</text>
    </g>
  );
}

function PanelBText() {
  return (
    <g>
      <PanelLetter x={990} y={28.5}>B</PanelLetter>
      <text x={1305} y={57} textAnchor="middle" fontSize={25}>p &lt; 2.2e-16</text>
      <text x={1622} y={57} textAnchor="middle" fontSize={25}>p = 0.027</text>
      <text transform="rotate(-90 1000 279)" x={1000} y={279} textAnchor="middle" fontSize={33.5}>CD58 Up-Signature</text>
      <text transform="rotate(-90 1041 280)" x={1041} y={280} textAnchor="middle" fontSize={33.5}>Expression Score</text>
      <rect x={1798} y={184} width={25.5} height={26} fill={NR_FILL} stroke="#333" strokeWidth={1.6} />
      <rect x={1798} y={220} width={25.5} height={26} fill={R_FILL} stroke="#333" strokeWidth={1.6} />
      <text x={1833} y={210} fontSize={28}>NR</text>
      <text x={1833} y={246} fontSize={28}>R</text>
    </g>
  );
}

const barX = (first, step, i) => first + step * i;

function LegendBlock({ x, labelX, names, colors, italicFirstWord }) {
  const ys = [1738, 1782, 1825];
  return (
    <g>
      {names.map((name, i) => (
        <g key={name}>
          <rect x={x} y={ys[i]} width={35} height={19} fill={colors[i]} />
          <text x={labelX} y={ys[i] + 18.5} fontSize={25}>
            {italicFirstWord && name.startsWith("CD2") ? (
              <>
                <tspan fontStyle="italic">CD2</tspan>
                {name.slice(3)}
              </>
            ) : (
              name
            )}
          </text>
        </g>
      ))}
    </g>
  );
}

function Overlay() {
  const c1 = (i) => barX(233, 53.5, i);
  const c2 = (i) => barX(610.7, 53.6, i);
  const d1 = (i) => barX(1167.4, 53.4, i);
  const d2 = (i) => barX(1596, 53.4, i);
  const e1 = (i) => barX(162.3, 48.6, i);
  const e2 = (i) => barX(622, 48.8, i);
  const f = (g, i) => 1149.8 + 161.1 * g + 44 * (i - 1);
  const gg = (g, i) => 1680.1 + 161.7 * g + 44 * (i - 1);
  return (
    <svg
      width={1920}
      height={1849}
      style={{ position: "absolute", left: 0, top: 0, pointerEvents: "none" }}
      fontFamily={FONT}
      fill="#000"
    >
      <defs>
        <pattern id="stippleMid" width={28} height={28} patternUnits="userSpaceOnUse">
          {STIPPLE_TILE.map(([x, y], i) => (
            <circle key={i} cx={x} cy={y} r={1.85} fill="#000" />
          ))}
        </pattern>
        <pattern id="stippleDarkNr" width={28} height={28} patternUnits="userSpaceOnUse">
          <rect width={28} height={28} fill="#000" />
          {STIPPLE_TILE.filter((_, i) => i % 2 === 0).map(([x, y], i) => (
            <circle key={i} cx={x} cy={y} r={0.85} fill={NR_FILL} />
          ))}
        </pattern>
      </defs>
      <PanelA />
      <PanelBText />

      <PanelLetter x={2} y={611}>C</PanelLetter>
      <Title x={306} y={625}>2686</Title>
      <Title x={697} y={625}>MaMel134</Title>
      <ViableLabel x={121} y={881} />
      <ViableLabel x={502} y={880} />
      <Bracket x1={c1(0)} x2={c1(3)} y={672} label="<0.0001" lx={315} ly={662} />
      <Bracket x1={c1(0)} x2={c1(2)} y={719} label="<0.0001" lx={289} ly={713} />
      <Bracket x1={c1(0)} x2={c1(1)} y={772} label="<0.0001" lx={258} ly={766} />
      <Bracket x1={c2(0)} x2={c2(3)} y={671} label="0.0111" lx={695} ly={663} />
      <Bracket x1={c2(0)} x2={c2(2)} y={719} label="0.0102" lx={668} ly={712} />
      <Bracket x1={c2(0)} x2={c2(1)} y={770.5} label="<0.0001" lx={638} ly={764} />

      <PanelLetter x={989} y={611}>D</PanelLetter>
      <Title x={1244.5} y={664}>2686</Title>
      <Title x={1663} y={664}>MaMel134</Title>
      <IfnLabel x={1012} y={900} />
      <IfnLabel x={1440} y={900} />
      <Bracket x1={d1(0)} x2={d1(3)} y={715} label="<0.0001" lx={1247} ly={709} />
      <Bracket x1={d1(0)} x2={d1(2)} y={764} label="<0.0001" lx={1216} ly={759} />
      <Bracket x1={d1(0) - 1.5} x2={d1(1)} y={840} label="<0.0001" lx={1193} ly={835} />
      <Bracket x1={d2(0)} x2={d2(3)} y={755} label="0.0004" lx={1678} ly={749} />
      <Bracket x1={d2(0)} x2={d2(2)} y={812.5} label="0.0027" lx={1654} ly={807} />
      <Bracket x1={d2(0)} x2={d2(1)} y={884.5} label="0.0802" lx={1621} ly={880} />

      <PanelLetter x={2} y={1250}>E</PanelLetter>
      <Title x={291.5} y={1292}>2686:NY-ESO-1 T Cells</Title>
      <Title x={738} y={1292}>MaMel134</Title>
      <ViableLabel x={59} y={1500} />
      <ViableLabel x={517} y={1500} />
      <Bracket x1={e1(2)} x2={e1(3)} y={1404} label="<0.0001" lx={282} ly={1389} />
      <Bracket x1={e1(4)} x2={e1(5)} y={1404} label="<0.0001" lx={380} ly={1389} />
      <Bracket x1={e2(2)} x2={e2(3)} y={1360} label="<0.0001" lx={743} ly={1345} />
      <Bracket x1={e2(4)} x2={e2(5)} y={1360} label="<0.0001" lx={844} ly={1345} />

      <PanelLetter x={989} y={1250}>F</PanelLetter>
      <Title x={1234} y={1258}>MaMel134</Title>
      <ViableLabel x={1010} y={1500} />
      <Bracket x1={f(0, 0)} x2={f(0, 2)} y={1320} label="0.0814" lx={1148} ly={1306} />
      <Bracket x1={f(0, 1)} x2={f(0, 2)} y={1377} label="<0.0001" lx={1170} ly={1366} />
      <Bracket x1={f(1, 0)} x2={f(1, 2)} y={1322.5} label="0.0003" lx={1313} ly={1308} />
      <Bracket x1={f(1, 1)} x2={f(1, 2)} y={1390.5} label="<0.0001" lx={1331} ly={1380} />
      <LegendBlock x={1183.5} labelX={1224} names={F_SERIES} colors={[BLACK, TEAL, PINK]} italicFirstWord />

      <PanelLetter x={1473} y={1250}>G</PanelLetter>
      <Title x={1750} y={1258}>MaMel134</Title>
      <ViableLabel x={1531} y={1500} />
      <Bracket x1={gg(0, 0)} x2={gg(0, 2)} y={1298} label="<0.0001" lx={1678} ly={1292} />
      <Bracket x1={gg(0, 0)} x2={gg(0, 1)} y={1355} label="<0.0001" lx={1657} ly={1349} />
      <Bracket x1={gg(1, 0)} x2={gg(1, 2)} y={1298} label="<0.0001" lx={1840} ly={1292} />
      <Bracket x1={gg(1, 0)} x2={gg(1, 1)} y={1355} label="<0.0001" lx={1818.5} ly={1349} />
      <LegendBlock x={1699} labelX={1740} names={G_SERIES} colors={[BLACK, TEAL, PINK]} />
    </svg>
  );
}

export default function App() {
  return (
    <div
      style={{
        position: "absolute",
        left: 0,
        top: 0,
        width: 1920,
        height: 1849,
        background: "#fff",
        overflow: "hidden",
        fontFamily: FONT,
      }}
    >
      <ViolinPanel />
      <SinglePanel
        labels={LABELS_4} means={C1_MEANS} errors={C1_ERRORS} reps={C1_REPS} colors={COLORS_4}
        plot={{ x: 198, y: 742, w: 232, h: 308.5 }} firstBar={233} barStep={53.5} barW={33}
        domain={[0, 1.5]} ticks={[0, 0.5, 1, 1.5]}
      />
      <SinglePanel
        labels={LABELS_4} means={C2_MEANS} errors={C2_ERRORS} reps={C2_REPS} colors={COLORS_4}
        plot={{ x: 575.5, y: 742, w: 232.5, h: 308.5 }} firstBar={610.7} barStep={53.6} barW={33}
        domain={[0, 1.5]} ticks={[0, 0.5, 1, 1.5]}
      />
      <SinglePanel
        labels={LABELS_4} means={D1_MEANS} errors={D1_ERRORS} reps={D1_REPS} colors={COLORS_4}
        plot={{ x: 1132, y: 742.2, w: 231, h: 308.4 }} firstBar={1167.4} barStep={53.4} barW={33}
        domain={[0, 1000]} ticks={[0, 200, 400, 600, 800, 1000]} digits={0}
      />
      <SinglePanel
        labels={LABELS_4} means={D2_MEANS} errors={D2_ERRORS} reps={D2_REPS} colors={COLORS_4}
        plot={{ x: 1561, y: 742.2, w: 233, h: 308.4 }} firstBar={1596} barStep={53.4} barW={33}
        domain={[0, 1000]} ticks={[0, 200, 400, 600, 800, 1000]} digits={0}
      />
      <SinglePanel
        labels={LABELS_6} means={E1_MEANS} errors={E1_ERRORS} reps={E1_REPS} colors={COLORS_6}
        plot={{ x: 131, y: 1358.4, w: 307.5, h: 308.5 }} firstBar={162.3} barStep={48.6} barW={30}
        domain={[1, 3]} ticks={[1, 1.5, 2, 2.5, 3]} slant={SLANT_6} capW={17}
      />
      <SinglePanel
        labels={LABELS_6} means={E2_MEANS} errors={E2_ERRORS} reps={E2_REPS} colors={COLORS_6}
        plot={{ x: 590.3, y: 1358.4, w: 308.7, h: 308.5 }} firstBar={622} barStep={48.8} barW={30}
        domain={[0, 2.5]} ticks={[0, 0.5, 1, 1.5, 2, 2.5]} slant={SLANT_6} capW={17}
      />
      <GroupedPanel
        groups={F_GROUPS} seriesNames={F_SERIES} colors={[BLACK, TEAL, PINK]} means={F_MEANS} errors={F_ERRORS} reps={F_REPS}
        plot={{ x: 1076.3, y: 1358.4, w: 308.1, h: 308.5 }} firstGroup={1149.8} groupStep={161.1} barW={27} barGap={17}
        tickShifts={[-2, 13]}
      />
      <GroupedPanel
        groups={G_GROUPS} seriesNames={G_SERIES} colors={[BLACK, TEAL, PINK]} means={G_MEANS} errors={G_ERRORS} reps={G_REPS}
        plot={{ x: 1607.9, y: 1357.8, w: 307.4, h: 309.1 }} firstGroup={1680.1} groupStep={161.7} barW={27} barGap={17}
        tickShifts={[-10, -2]}
      />
      <Overlay />
    </div>
  );
}
